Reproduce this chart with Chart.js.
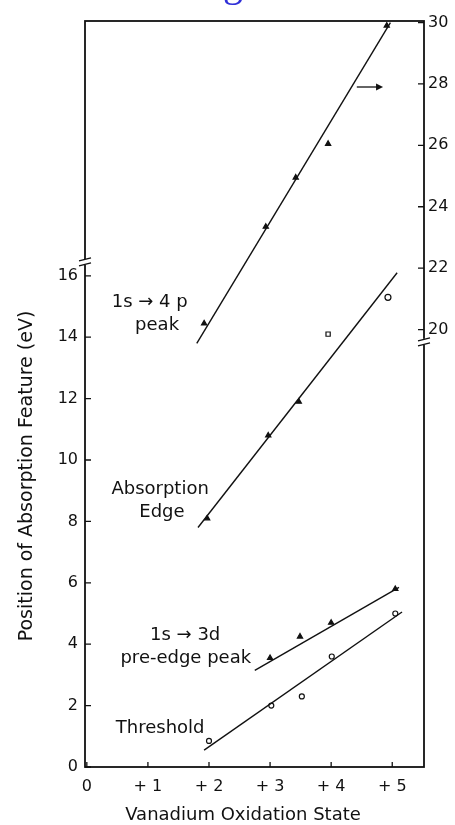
<!DOCTYPE html>
<html>
<head>
<meta charset="utf-8">
<script src="https://cdn.jsdelivr.net/npm/chart.js@4.4.1/dist/chart.umd.min.js"></script>
<style>
    html, body { margin: 0; padding: 0; background: #fff; }
    #wrap { position: relative; width: 455px; height: 825px; overflow: hidden; }
    #heading { position: absolute; left: 143px; top: -41px; font: 40px "Liberation Serif"; color: #3030d8; white-space: nowrap; }
</style>
</head>
<body>
<div id="wrap">
    <canvas id="chart" width="455" height="825"></canvas>
    <div id="heading">K-edge</div>
</div>
<script>
// Tick labels
const xTicks = [0, 1, 2, 3, 4, 5];
const leftTicks = [0, 2, 4, 6, 8, 10, 12, 14, 16];
const rightTicks = [20, 22, 24, 26, 28, 30];

// 1s -> 4p peak (read against the right axis)
const peak4pX = [1.92, 2.93, 3.42, 3.95, 4.91];
const peak4pY = [20.2, 23.35, 24.95, 26.05, 29.9];
const peak4pFitX = [1.80, 4.97];
const peak4pFitY = [19.55, 30.0];

// Absorption edge
const edgeX = [1.97, 2.97, 3.47, 3.95, 4.93];
const edgeY = [8.1, 10.8, 11.9, 14.1, 15.3];
const edgeFitX = [1.82, 5.08];
const edgeFitY = [7.8, 16.1];

// 1s -> 3d pre-edge peak
const preEdgeX = [3.0, 3.49, 4.0, 5.05];
const preEdgeY = [3.55, 4.25, 4.7, 5.8];
const preEdgeFitX = [2.75, 5.11];
const preEdgeFitY = [3.15, 5.85];

// Threshold
const thresholdX = [2.0, 3.02, 3.52, 4.01, 5.05];
const thresholdY = [0.85, 2.0, 2.3, 3.6, 5.0];
const thresholdFitX = [1.92, 5.16];
const thresholdFitY = [0.55, 5.05];

const ink = '#111';
const font = 'DejaVu Sans';

function toPoints(xs, ys) {
    return xs.map((x, i) => ({ x: x, y: ys[i] }));
}

function markers(xs, ys, axis, style, fill, radius) {
    return {
        type: 'scatter',
        data: toPoints(xs, ys),
        yAxisID: axis,
        pointStyle: style,
        pointRadius: radius,
        pointBackgroundColor: fill,
        pointBorderColor: ink,
        pointBorderWidth: 1.2,
        showLine: false
    };
}

function fitLine(xs, ys, axis) {
    return {
        type: 'line',
        data: toPoints(xs, ys),
        yAxisID: axis,
        borderColor: ink,
        borderWidth: 1.4,
        pointRadius: 0,
        fill: false
    };
}

// Text labels next to the lines, in data units of the left axis
const notes = [
    { text: '1s \u2192 4 p', x: 1.03, y: 15.15 },
    { text: 'peak', x: 1.15, y: 14.4 },
    { text: 'Absorption', x: 1.2, y: 9.05 },
    { text: 'Edge', x: 1.23, y: 8.3 },
    { text: '1s \u2192 3d', x: 1.61, y: 4.3 },
    { text: 'pre-edge peak', x: 1.62, y: 3.55 },
    { text: 'Threshold', x: 1.2, y: 1.27 }
];

// Frame, inward ticks, axis breaks, arrow, notes and axis titles
const framePlugin = {
    id: 'frame',
    afterDraw(chart) {
        const ctx = chart.ctx;
        const a = chart.chartArea;
        const sx = chart.scales.x, sy = chart.scales.y, sy2 = chart.scales.y2;
        ctx.save();
        ctx.strokeStyle = ink;
        ctx.fillStyle = ink;

        ctx.lineWidth = 1.8;
        ctx.strokeRect(a.left, a.top, a.right - a.left, a.bottom - a.top);

        ctx.lineWidth = 1.3;
        ctx.beginPath();
        xTicks.forEach(v => {
            const px = sx.getPixelForValue(v);
            ctx.moveTo(px, a.bottom);
            ctx.lineTo(px, a.bottom - 5);
        });
        leftTicks.forEach(v => {
            const py = sy.getPixelForValue(v);
            ctx.moveTo(a.left, py);
            ctx.lineTo(a.left + 6, py);
        });
        rightTicks.forEach(v => {
            const py = sy2.getPixelForValue(v);
            ctx.moveTo(a.right, py);
            ctx.lineTo(a.right - 6, py);
        });
        ctx.stroke();

        // axis breaks
        function axisBreak(px, py) {
            ctx.fillStyle = '#fff';
            ctx.fillRect(px - 3, py - 3, 6, 6);
            ctx.beginPath();
            ctx.moveTo(px - 6, py - 1); ctx.lineTo(px + 6, py - 4);
            ctx.moveTo(px - 6, py + 4); ctx.lineTo(px + 6, py + 1);
            ctx.stroke();
            ctx.fillStyle = ink;
        }
        axisBreak(a.left, sy.getPixelForValue(16.45));
        axisBreak(a.right, sy2.getPixelForValue(19.6));

        // arrow pointing to the right axis
        const ay = sy2.getPixelForValue(27.9);
        const ax0 = sx.getPixelForValue(4.42), ax1 = sx.getPixelForValue(4.85);
        ctx.beginPath();
        ctx.moveTo(ax0, ay); ctx.lineTo(ax1 - 4, ay);
        ctx.stroke();
        ctx.beginPath();
        ctx.moveTo(ax1, ay); ctx.lineTo(ax1 - 7, ay - 3.5); ctx.lineTo(ax1 - 7, ay + 3.5);
        ctx.closePath();
        ctx.fill();

        ctx.font = '18px "' + font + '"';
        ctx.textAlign = 'center';
        ctx.textBaseline = 'middle';
        notes.forEach(n => {
            ctx.fillText(n.text, sx.getPixelForValue(n.x), sy.getPixelForValue(n.y));
        });

        ctx.fillText('Vanadium Oxidation State', 243, 815);
        ctx.translate(27, 476);
        ctx.rotate(-Math.PI / 2);
        ctx.font = '19px "' + font + '"';
        ctx.fillText('Position of Absorption Feature (eV)', 0, 0);
        ctx.restore();
    }
};

const tickFont = { family: font, size: 16 };

new Chart(document.getElementById('chart'), {
    data: {
        datasets: [
            fitLine(peak4pFitX, peak4pFitY, 'y2'),
            markers(peak4pX, peak4pY, 'y2', 'triangle', ink, 3),
            fitLine(edgeFitX, edgeFitY, 'y'),
            markers(edgeX, edgeY, 'y', ['triangle', 'triangle', 'triangle', 'rect', 'circle'],
                [ink, ink, ink, '#fff', '#fff'], 3),
            fitLine(preEdgeFitX, preEdgeFitY, 'y'),
            markers(preEdgeX, preEdgeY, 'y', 'triangle', ink, 3),
            fitLine(thresholdFitX, thresholdFitY, 'y'),
            markers(thresholdX, thresholdY, 'y', 'circle', '#fff', 2.5)
        ]
    },
    options: {
        responsive: false,
        animation: false,
        layout: { padding: { top: 21, left: 0, right: 0, bottom: 0 } },
        plugins: { legend: { display: false }, tooltip: { enabled: false } },
        scales: {
            x: {
                type: 'linear',
                min: -0.03,
                max: 5.52,
                grid: { display: false, drawTicks: false },
                border: { display: false },
                afterBuildTicks: s => { s.ticks = xTicks.map(v => ({ value: v })); },
                afterFit: s => { s.height = 58; },
                ticks: {
                    padding: 10, autoSkip: false, maxRotation: 0, color: ink, font: tickFont,
                    callback: v => v === 0 ? '0' : '+ ' + v
                }
            },
            y: {
                type: 'linear',
                position: 'left',
                min: 0,
                max: 24.3,
                grid: { display: false, drawTicks: false },
                border: { display: false },
                afterBuildTicks: s => { s.ticks = leftTicks.map(v => ({ value: v })); },
                afterFit: s => { s.width = 85; },
                ticks: { padding: 7, autoSkip: false, color: ink, font: tickFont }
            },
            y2: {
                type: 'linear',
                position: 'right',
                min: 5.75,
                max: 30.05,
                grid: { display: false, drawTicks: false },
                border: { display: false },
                afterBuildTicks: s => { s.ticks = rightTicks.map(v => ({ value: v })); },
                afterFit: s => { s.width = 31; },
                ticks: { padding: 4, autoSkip: false, color: ink, font: tickFont }
            }
        }
    },
    plugins: [framePlugin]
});
</script>
</body>
</html>
